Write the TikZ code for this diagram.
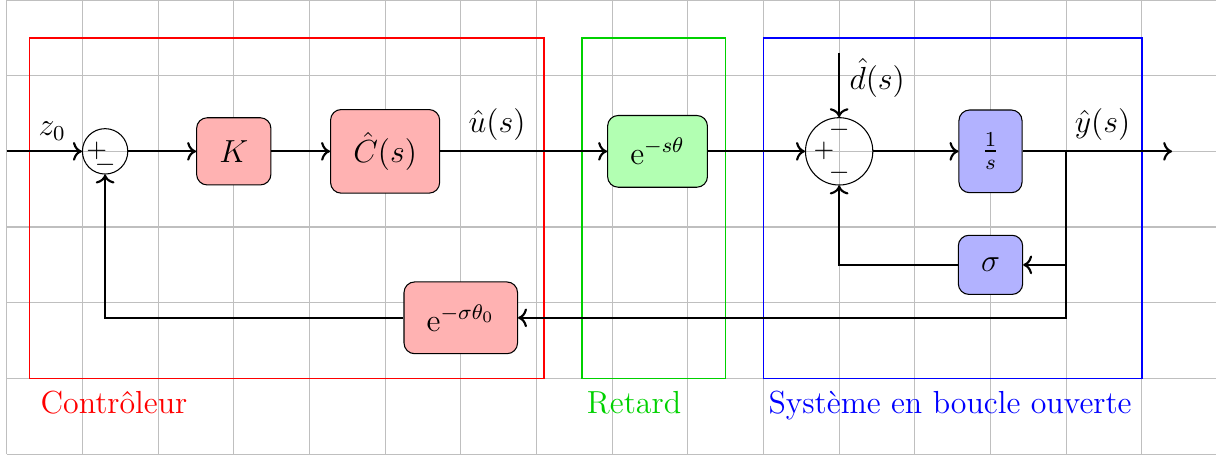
\documentclass[tikz,border=0pt]{standalone}
\usetikzlibrary{arrows.meta}
\definecolor{myred}{rgb}{1,0,0}
\definecolor{mygreen}{rgb}{0,0.82,0}
\definecolor{myblue}{rgb}{0,0,1}
\begin{document}
\begin{tikzpicture}[
  blk/.style={draw, rounded corners=4pt, inner sep=0.3cm, font=\large},
  redblk/.style={blk, fill=red!30},
  greenblk/.style={blk, fill=green!30},
  blueblk/.style={blk, fill=blue!30},
  sumnode/.style={draw, circle, inner sep=0pt},
  conn/.style={thick, ->},
  lbl/.style={font=\large},
  sgn/.style={inner sep=0pt},
  frm/.style={line width=0.5pt},
]
\useasboundingbox (-0.089,-4) rectangle (15.98,2);
\draw[gray!50, line width=0.4pt] (0,-4) grid (16,2);

% frames
\draw[frm, myred] (0.3,-3) -- (0.3,1.5) -- (7.1,1.5) -- (7.1,-3) -- cycle;
\draw[frm, mygreen] (7.6,-3) -- (7.6,1.5) -- (9.5,1.5) -- (9.5,-3) -- cycle;
\draw[frm, myblue] (10,-3) -- (10,1.5) -- (15,1.5) -- (15,-3) -- cycle;
\node[lbl, text=myred, anchor=base west, inner sep=0pt] (lc) at (0.44,-3.46) {Contrôleur};
\node[lbl, text=mygreen, anchor=base west, inner sep=0pt] (lr) at (7.66,-3.46) {Retard};
\node[lbl, text=myblue, anchor=base west, inner sep=0pt] (ls) at (10.06,-3.46) {Système en boucle ouverte};

% nodes
\coordinate (in) at (0,0);
\node[sumnode, minimum size=0.6cm] (s1) at (1.3,0) {};
\node[sgn] (s1p) at (1.19,0) {$+$};
\node[sgn] (s1m) at (1.3,-0.18) {$-$};
\node[redblk] (K) at (3,0) {$K$};
\node[redblk] (C) at (5,0) {$\hat{C}(s)$};
\node[greenblk] (D) at (8.6,0) {$\mathrm{e}^{-s\theta}$};
\node[sumnode, minimum size=0.89cm] (s2) at (11,0) {};
\node[sgn] (s2p) at (10.8,0) {$+$};
\node[sgn] (s2t) at (11,0.28) {$-$};
\node[sgn] (s2b) at (11,-0.28) {$-$};
\coordinate (dtop) at (11,1.3);
\node[blueblk] (G) at (13,0) {$\frac{1}{s}$};
\coordinate (br) at (14,0);
\coordinate (out) at (15.4,0);
\node[blueblk] (sig) at (13,-1.5) {$\sigma$};
\node[redblk] (F) at (6,-2.2) {$\mathrm{e}^{-\sigma\theta_0}$};

% labels
\node[lbl] (lz) at (0.6,0.27) {$z_0$};
\node[lbl] (lu) at (6.48,0.36) {$\hat{u}(s)$};
\node[lbl, anchor=west, inner sep=0pt] (ld) at (11.13,0.97) {$\hat{d}(s)$};
\node[lbl] (ly) at (14.48,0.36) {$\hat{y}(s)$};

% connectors
\draw[conn] (in) -- (s1);
\draw[conn] (s1) -- (K);
\draw[conn] (K) -- (C);
\draw[conn] (C) -- (D);
\draw[conn] (D) -- (s2);
\draw[conn] (dtop) -- (s2);
\draw[conn] (s2) -- (G);
\draw[conn] (G) -- (out);
\draw[conn] (br) |- (sig);
\draw[conn] (sig) -| (s2);
\draw[conn] (br) |- (F);
\draw[conn] (F) -| (s1);
\end{tikzpicture}
\end{document}
